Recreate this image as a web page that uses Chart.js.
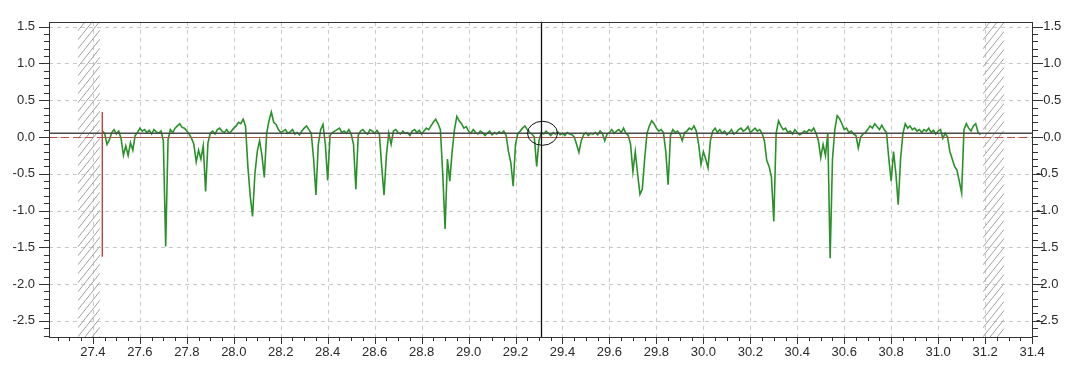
<!DOCTYPE html>
<html>
<head>
<meta charset="utf-8">
<title>Signal trace</title>
<script src="https://cdn.jsdelivr.net/npm/chart.js@4.4.1/dist/chart.umd.min.js"></script>
<style>
  html, body { margin: 0; padding: 0; background: #fff; }
  #wrap { width: 1078px; height: 376px; }
</style>
</head>
<body>
<div id="wrap"><canvas id="traceChart" width="1078" height="376"></canvas></div>
<script>
// trace is sampled every 0.01 along x, starting at the red start marker
const sampleStart = 27.44;
const sampleStep = 0.01;
const traceValues = [
  0.08, 0.05, -0.10, -0.04, 0.06, 0.10, 0.04, 0.08, -0.02, -0.25,
  -0.12, -0.25, -0.08, -0.18, 0.02, 0.06, 0.12, 0.08, 0.10, 0.06,
  0.09, 0.04, 0.10, 0.07, 0.05, 0.08, -0.05, -1.49, -0.04, 0.10,
  0.06, 0.12, 0.15, 0.18, 0.13, 0.12, 0.08, 0.04, -0.02, -0.10,
  -0.34, -0.18, -0.30, -0.12, -0.74, -0.08, 0.05, 0.08, 0.04, 0.10,
  0.12, 0.08, 0.06, 0.10, 0.05, 0.08, 0.12, 0.15, 0.20, 0.18,
  0.24, 0.15, -0.40, -0.80, -1.08, -0.50, -0.20, -0.05, -0.25, -0.55,
  0.05, 0.22, 0.34, 0.20, 0.17, 0.10, 0.06, 0.08, 0.10, 0.05,
  0.07, 0.10, 0.04, 0.06, 0.03, 0.08, 0.12, 0.15, 0.10, 0.05,
  -0.30, -0.79, -0.10, 0.10, 0.17, -0.10, -0.59, 0.02, 0.06, 0.08,
  0.10, 0.12, 0.06, 0.08, 0.05, 0.10, 0.04, -0.10, -0.71, 0.02,
  0.08, 0.10, 0.06, 0.04, 0.10, 0.08, 0.05, 0.09, 0.04, -0.40,
  -0.79, -0.25, 0.05, -0.10, 0.08, 0.10, 0.06, 0.04, 0.08, 0.05,
  0.06, 0.02, 0.08, 0.10, 0.06, 0.09, 0.04, 0.08, 0.12, 0.10,
  0.15, 0.20, 0.24, 0.18, 0.10, -0.50, -1.25, -0.30, -0.60, -0.20,
  0.10, 0.28, 0.22, 0.18, 0.12, 0.14, 0.08, 0.05, 0.10, 0.06,
  0.04, 0.08, 0.06, 0.02, 0.05, 0.08, 0.03, 0.06, 0.04, 0.07,
  0.05, 0.08, 0.02, -0.20, -0.35, -0.67, -0.10, 0.05, 0.08, 0.12,
  0.15, 0.10, 0.06, 0.04, 0.00, -0.40, -0.05, 0.06, 0.04, 0.08,
  0.05, 0.02, 0.06, 0.04, 0.07, 0.03, 0.05, 0.02, 0.06, 0.04,
  0.03, 0.00, -0.10, -0.21, -0.05, 0.03, 0.06, 0.02, 0.05, 0.04,
  0.06, 0.03, 0.08, 0.05, -0.05, 0.04, 0.06, 0.10, 0.05, 0.08,
  0.10, 0.06, 0.12, 0.05, 0.02, -0.10, -0.47, -0.20, -0.50, -0.78,
  -0.71, -0.30, 0.05, 0.15, 0.22, 0.18, 0.12, 0.08, 0.10, 0.06,
  -0.20, -0.65, 0.02, 0.10, 0.06, 0.08, 0.04, -0.05, 0.06, 0.08,
  0.12, 0.10, 0.15, 0.08, -0.10, -0.37, -0.20, -0.30, -0.42, -0.05,
  0.08, 0.12, 0.06, 0.10, 0.05, 0.08, 0.03, 0.06, 0.10, 0.04,
  0.06, 0.10, 0.12, 0.08, 0.10, 0.14, 0.06, 0.09, 0.12, 0.08,
  0.10, 0.05, -0.05, -0.32, -0.40, -0.55, -1.15, 0.05, 0.22, 0.15,
  0.10, 0.12, 0.06, 0.08, 0.04, 0.10, 0.06, 0.03, 0.05, 0.08,
  0.06, 0.10, 0.08, 0.12, 0.05, -0.05, -0.28, -0.10, -0.25, 0.05,
  -1.65, -0.30, 0.10, 0.29, 0.25, 0.18, 0.10, 0.12, 0.06, 0.08,
  0.04, 0.02, -0.15, 0.00, 0.04, 0.06, 0.10, 0.15, 0.12, 0.18,
  0.14, 0.10, 0.16, 0.10, 0.06, -0.30, -0.60, -0.20, -0.50, -0.92,
  -0.30, 0.05, 0.18, 0.12, 0.15, 0.10, 0.12, 0.08, 0.10, 0.06,
  0.10, 0.08, 0.12, 0.06, 0.09, 0.04, 0.08, 0.10, -0.02, 0.05,
  0.00, -0.20, -0.30, -0.40, -0.45, -0.60, -0.76, 0.10, 0.18, 0.12,
  0.08, 0.15, 0.18, 0.06, 0.03
];

const xTicks = [27.4, 27.6, 27.8, 28.0, 28.2, 28.4, 28.6, 28.8, 29.0, 29.2, 29.4,
  29.6, 29.8, 30.0, 30.2, 30.4, 30.6, 30.8, 31.0, 31.2, 31.4];
const yTicks = [1.5, 1.0, 0.5, 0.0, -0.5, -1.0, -1.5, -2.0, -2.5];

const xRange = [27.213, 31.404];
const yRange = [-2.72, 1.566];

// reference lines and zones, in data units
const baselineLevel = 0.05;
const zeroLevel = 0;
const cursorX = 29.308;
const startMarker = { x: 27.44, top: 0.34, bottom: -1.63 };
const hatchZones = [[27.336, 27.43], [31.191, 31.281]];

const points = traceValues.map((v, i) => ({ x: +(sampleStart + i * sampleStep).toFixed(2), y: v }));

const labelFont = { family: "'Liberation Sans', Arial, sans-serif", size: 13 };
const labelColor = '#2a2a2a';

function hline(ctx, x0, x1, y) { ctx.beginPath(); ctx.moveTo(x0, y); ctx.lineTo(x1, y); ctx.stroke(); }
function vline(ctx, x, y0, y1) { ctx.beginPath(); ctx.moveTo(x, y0); ctx.lineTo(x, y1); ctx.stroke(); }

const overlayPlugin = {
  id: 'overlay',
  beforeDatasetsDraw(chart) {
    const { ctx, chartArea: a, scales: { x, y } } = chart;
    ctx.save();
    // dashed grid
    ctx.strokeStyle = '#c8c8c8';
    ctx.lineWidth = 1;
    ctx.setLineDash([4, 4]);
    xTicks.forEach(v => vline(ctx, Math.round(x.getPixelForValue(v)) + 0.5, a.top, a.bottom));
    yTicks.forEach(v => hline(ctx, a.left, a.right, Math.round(y.getPixelForValue(v)) + 0.5));
    ctx.setLineDash([]);

    // hatched zones
    hatchZones.forEach(([x0, x1]) => {
      const l = x.getPixelForValue(x0), r = x.getPixelForValue(x1);
      const w = r - l;
      ctx.save();
      ctx.beginPath();
      ctx.rect(l, a.top, w, a.bottom - a.top);
      ctx.clip();
      ctx.strokeStyle = '#a0a0a0';
      ctx.lineWidth = 1;
      ctx.beginPath();
      for (let yy = a.top; yy < a.bottom + w * 1.25; yy += 9) {
        ctx.moveTo(l, yy);
        ctx.lineTo(r, yy - w * 1.25);
      }
      ctx.stroke();
      ctx.restore();
    });
    ctx.restore();
  },
  afterDatasetsDraw(chart) {
    const { ctx, chartArea: a, scales: { x, y } } = chart;
    ctx.save();

    // zero line: dashed outside the trace, solid under it
    const zy = Math.round(y.getPixelForValue(zeroLevel)) + 0.5;
    const m0 = x.getPixelForValue(startMarker.x);
    const m1 = x.getPixelForValue(hatchZones[1][0]);
    ctx.strokeStyle = 'rgb(185,80,70)';
    ctx.lineWidth = 1.2;
    ctx.setLineDash([8, 4]);
    hline(ctx, a.left, m0, zy);
    hline(ctx, m1, a.right, zy);
    ctx.setLineDash([]);
    ctx.strokeStyle = 'rgb(160,90,70)';
    hline(ctx, m0, m1, zy);

    // baseline
    ctx.strokeStyle = '#4a4a4a';
    ctx.lineWidth = 1.6;
    hline(ctx, a.left, a.right, y.getPixelForValue(baselineLevel));

    // start marker
    ctx.strokeStyle = 'rgb(190,70,60)';
    ctx.lineWidth = 1.4;
    vline(ctx, m0, y.getPixelForValue(startMarker.top), y.getPixelForValue(startMarker.bottom));

    // cursor and its ring
    const cx = Math.round(x.getPixelForValue(cursorX)) + 0.5;
    ctx.strokeStyle = '#111';
    ctx.lineWidth = 1.3;
    vline(ctx, cx, a.top, a.bottom);
    ctx.lineWidth = 1;
    ctx.beginPath();
    ctx.ellipse(cx + 1, y.getPixelForValue(baselineLevel), 15, 12, 0, 0, Math.PI * 2);
    ctx.stroke();

    // frame
    ctx.strokeStyle = '#333';
    ctx.lineWidth = 1;
    ctx.strokeRect(Math.round(a.left) + 0.5, Math.round(a.top) + 0.5,
      Math.round(a.right - a.left) - 1, Math.round(a.bottom - a.top));

    // major / minor ticks
    ctx.beginPath();
    for (let k = -27; k <= 15; k++) {
      const py = Math.round(y.getPixelForValue(k / 10)) + 0.5;
      const len = k % 5 === 0 ? 10 : 5;
      ctx.moveTo(a.left, py); ctx.lineTo(a.left - len, py);
      ctx.moveTo(a.right, py); ctx.lineTo(a.right + len, py);
    }
    for (let m = 545; m <= 628; m++) {
      const px = Math.round(x.getPixelForValue(m * 0.05)) + 0.5;
      const len = m % 4 === 0 ? 7 : 4;
      ctx.moveTo(px, a.bottom); ctx.lineTo(px, a.bottom + len);
    }
    ctx.stroke();
    ctx.restore();
  }
};

const setTicks = list => scale => { scale.ticks = list.map(v => ({ value: v })); };

new Chart(document.getElementById('traceChart'), {
  type: 'line',
  data: {
    datasets: [{
      data: points,
      borderColor: 'rgb(42,145,42)',
      borderWidth: 1.6,
      pointRadius: 0,
      tension: 0,
      fill: false,
      yAxisID: 'y'
    }]
  },
  options: {
    responsive: false,
    animation: false,
    devicePixelRatio: 1,
    layout: { padding: { top: 10, left: 0, right: 0, bottom: 0 } },
    plugins: {
      legend: { display: false },
      tooltip: { enabled: false }
    },
    scales: {
      x: {
        type: 'linear',
        min: xRange[0],
        max: xRange[1],
        afterBuildTicks: setTicks(xTicks),
        afterFit: s => { s.height = 39; },
        grid: { display: false, drawTicks: false },
        border: { display: false },
        ticks: {
          padding: 8,
          font: labelFont,
          color: labelColor,
          maxRotation: 0,
          autoSkip: false,
          callback: v => v.toFixed(1)
        }
      },
      y: {
        type: 'linear',
        position: 'left',
        min: yRange[0],
        max: yRange[1],
        afterBuildTicks: setTicks(yTicks),
        afterFit: s => { s.width = 49; },
        grid: { display: false, drawTicks: false },
        border: { display: false },
        ticks: {
          padding: 14,
          font: labelFont,
          color: labelColor,
          autoSkip: false,
          callback: v => v.toFixed(1)
        }
      },
      y2: {
        type: 'linear',
        position: 'right',
        min: yRange[0],
        max: yRange[1],
        afterBuildTicks: setTicks(yTicks),
        afterFit: s => { s.width = 45; },
        grid: { display: false, drawTicks: false },
        border: { display: false },
        ticks: {
          padding: 3,
          font: labelFont,
          color: labelColor,
          autoSkip: false,
          callback: v => (v < 0 ? '' : '\u2007') + v.toFixed(1)
        }
      }
    }
  },
  plugins: [overlayPlugin]
});
</script>
</body>
</html>
